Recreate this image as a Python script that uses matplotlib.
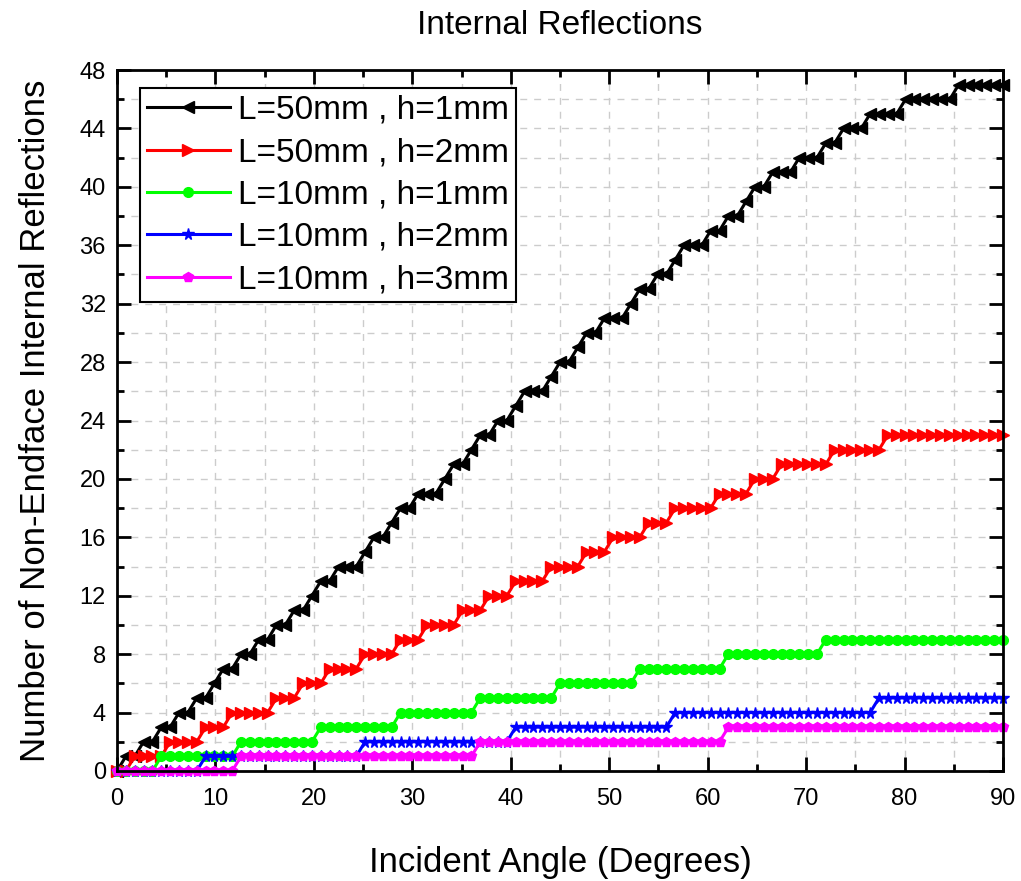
import numpy as np
import matplotlib
matplotlib.use("Agg")
import matplotlib.pyplot as plt
from matplotlib.ticker import MultipleLocator

plt.rcParams['font.family'] = ['Liberation Sans', 'DejaVu Sans']

# incident angle samples (deg)
angles = np.linspace(0, 90, 101)

# angle at which each additional reflection first appears, per configuration
steps_L50_h1 = [0.5, 2.3, 4.2, 5.5, 7.5, 9.3, 10.5, 12.5, 14.4, 15.5, 17.5, 19.4,
                20.4, 22.4, 24.5, 25.5, 27.5, 28.5, 30.5, 32.5, 33.5, 35.5, 36.5,
                38.4, 40.4, 41.4, 43.4, 44.4, 46.5, 47.5, 49.5, 51.5, 52.5, 54.5,
                56.5, 57.5, 59.5, 61.5, 63.4, 64.4, 66.4, 68.6, 71.5, 73.5, 76.4,
                79.6, 84.7]
steps_L50_h2 = [1.3, 5.3, 8.4, 11.4, 15.5, 18.5, 21.4, 24.4, 28.5, 31.5, 34.5,
                37.4, 40.5, 43.5, 47.4, 50.4, 53.5, 56.5, 60.6, 64.5, 67.4, 72.4,
                77.5]
steps_L10_h1 = [4.4, 12.5, 20.4, 28.5, 36.4, 44.3, 52.5, 61.5, 71.4]
steps_L10_h2 = [8.3, 24.5, 40.4, 56.7, 77.3]
steps_L10_h3 = [12.3, 36.6, 61.5]

labels = ["L=50mm , h=1mm", "L=50mm , h=2mm", "L=10mm , h=1mm",
          "L=10mm , h=2mm", "L=10mm , h=3mm"]
colors = ["black", "#ff0000", "#00ff00", "#0000ff", "#ff00ff"]
markers = ["<", ">", "o", "*", "p"]
msizes = [8, 8, 7, 8.5, 7.5]

fig = plt.figure(figsize=(10.21, 8.81), dpi=100)
ax = fig.add_axes([0.1146, 0.1249, 0.8678, 0.7956])

all_steps = [steps_L50_h1, steps_L50_h2, steps_L10_h1, steps_L10_h2, steps_L10_h3]
for steps, lab, c, m, ms in zip(all_steps, labels, colors, markers, msizes):
    counts = np.searchsorted(np.array(steps), angles, side='right')
    ax.plot(angles, counts, color=c, marker=m, markersize=ms, lw=2.2,
            markeredgecolor=c, label=lab, clip_on=False)

ax.set_xlim(0, 90)
ax.set_ylim(0, 48)
ax.xaxis.set_major_locator(MultipleLocator(10))
ax.xaxis.set_minor_locator(MultipleLocator(5))
ax.yaxis.set_major_locator(MultipleLocator(4))
ax.yaxis.set_minor_locator(MultipleLocator(2))

ax.grid(True, which='both', color='#cccccc', linestyle=(0, (5, 5)), lw=1)
ax.set_axisbelow(True)

ax.tick_params(which='both', direction='in', top=True, right=True,
               width=2, labelsize=17)
ax.tick_params(axis='x', which='both', pad=12)
ax.tick_params(axis='y', which='both', pad=8)
ax.tick_params(which='major', length=10)
ax.tick_params(which='minor', length=5)
for sp in ax.spines.values():
    sp.set_linewidth(2)

ax.set_title("Internal Reflections", fontsize=24, pad=26)
ax.set_xlabel("Incident Angle (Degrees)", fontsize=25, labelpad=26)
ax.set_ylabel("Number of Non-Endface Internal Reflections", fontsize=25,
              labelpad=20)

leg = ax.legend(loc='upper left', bbox_to_anchor=(0.026, 0.974), fontsize=24,
                frameon=True, fancybox=False, handlelength=2.5,
                handletextpad=0.25, labelspacing=0.34, borderpad=0.2,
                borderaxespad=0)
leg.get_frame().set_edgecolor('black')
leg.get_frame().set_linewidth(1.5)
leg.get_frame().set_alpha(1)

fig.savefig("out.png", dpi=100)
